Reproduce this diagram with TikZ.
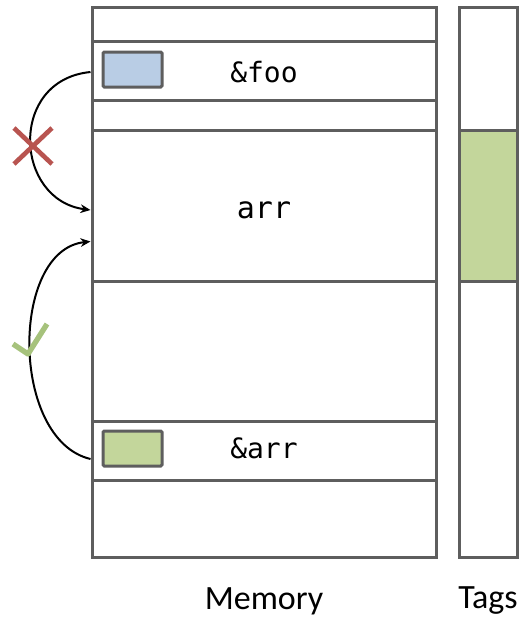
\documentclass[tikz,border=0pt]{standalone}
\usepackage{fontspec}
\setmainfont{Carlito}
\setmonofont{DejaVu Sans Mono}
\usetikzlibrary{arrows.meta,calc}
\definecolor{boxgray}{RGB}{94,94,94}
\definecolor{ptrblue}{RGB}{185,205,229}
\definecolor{taggreen}{RGB}{195,214,155}
\definecolor{crossred}{RGB}{184,84,80}
\definecolor{checkgreen}{RGB}{166,194,124}
\begin{document}
\begin{tikzpicture}[x=0.75pt,y=-0.75pt,
  memrow/.style={draw=boxgray, line width=2.25pt, minimum width=258pt, inner sep=0pt},
  tagrow/.style={draw=boxgray, line width=2.25pt, minimum width=43.5pt, inner sep=0pt},
  ptrbox/.style={draw=boxgray, line width=2.25pt, minimum width=44.25pt, minimum height=26.25pt, inner sep=0pt, rounded corners=1pt},
  codetext/.style={font=\fontsize{21}{25}\selectfont\ttfamily, text=black},
  captext/.style={font=\fontsize{25.5}{30}\selectfont, text=black},
  link/.style={draw=black, line width=1.5pt, -{Stealth[length=7.5pt,width=6.5pt]}}
]
\useasboundingbox (0,0) rectangle (520,619);
% memory rows
\node[memrow, minimum height=25.5pt] (r1) at (264,24) {};
\node[memrow, minimum height=44.25pt] (r2) at (264,70.5) {};
\node[memrow, minimum height=22.5pt] (r3) at (264,115) {};
\node[memrow, minimum height=113.25pt] (r4) at (264,205.5) {};
\node[memrow, minimum height=105pt] (r5) at (264,351) {};
\node[memrow, minimum height=44.25pt] (r6) at (264,450.5) {};
\node[memrow, minimum height=57.75pt] (r7) at (264,518.5) {};
% tags
\node[tagrow, minimum height=92.25pt] (t1) at (488,68.5) {};
\node[tagrow, minimum height=207pt] (t3) at (488,419) {};
\node[tagrow, fill=taggreen, minimum height=113.25pt] (t2) at (488,205.5) {};
% pointers
\node[ptrbox, fill=ptrblue] (p1) at (132.5,69.5) {};
\node[ptrbox, fill=taggreen] (p2) at (132.5,448.5) {};
% texts
\node[codetext] (foo) at (264,72) {\&foo};
\node[codetext, font=\fontsize{22.5}{27}\selectfont\ttfamily] (arr) at (264,210) {arr};
\node[codetext] (aarr) at (264,448) {\&arr};
\node[captext] (mem) at (264,601) {Memory};
\node[captext] (tags) at (488,601) {Tags};
% links
\draw[link] ($(r2.west)+(0,1.5)$) .. controls (8,80) and (14,200) .. ($(r4.west)+(0,4.5)$);
\draw[link] ($(r6.west)+(0,8.5)$) .. controls (10,440) and (10,250) .. ($(r4.west)+(0,36)$);
% cross
\draw[crossred, line width=3.5pt] (14,128) -- (52,164) (52,128) -- (14,164);
% check
\draw[checkgreen, line width=4pt, line join=round] (13,344) -- (28,354) -- (47,324);
\end{tikzpicture}
\end{document}
